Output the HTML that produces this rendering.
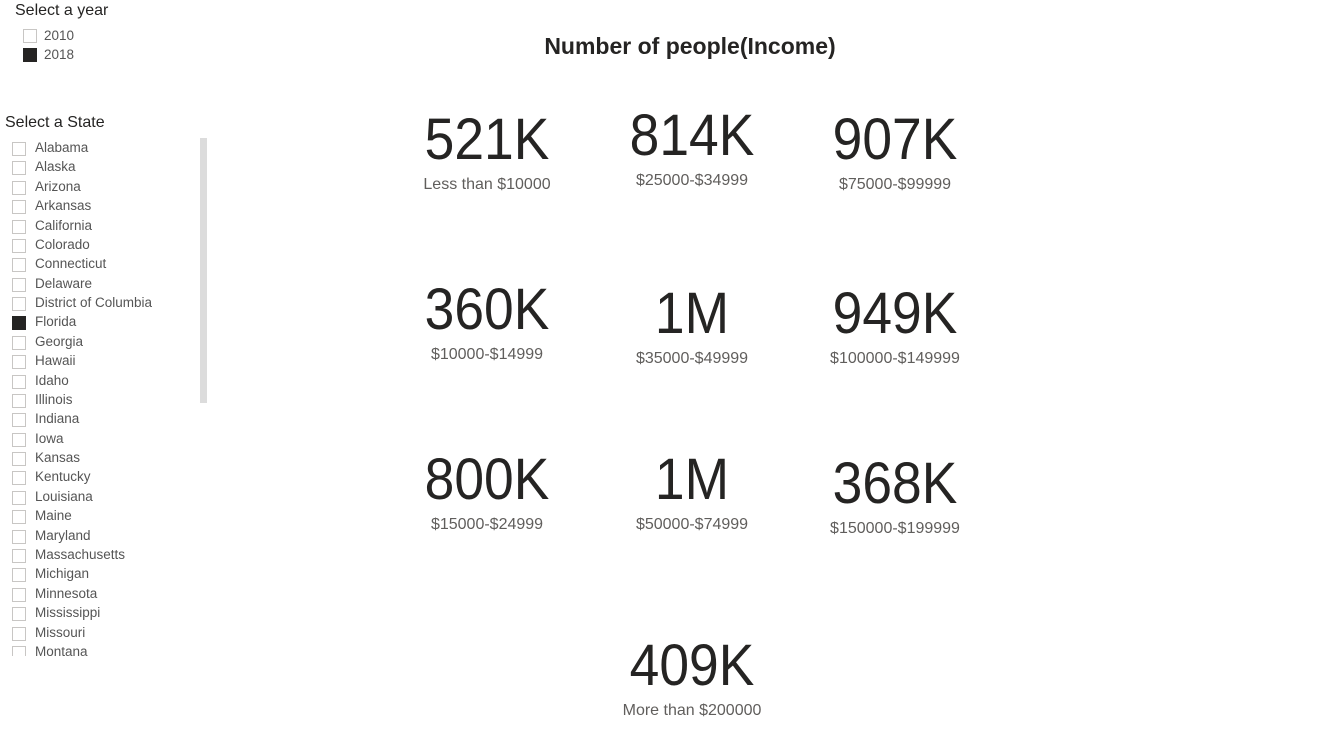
<!DOCTYPE html>
<html><head><meta charset="utf-8">
<style>
body{margin:0;width:1317px;height:739px;background:#fff;font-family:"Liberation Sans",sans-serif;position:relative;overflow:hidden;color:#252423}
.abs{position:absolute}
.cb{position:absolute;width:12px;height:12px;border:1px solid #c8c6c4;background:#fff}
.cb.on{background:#252423;border-color:#252423}
.st{position:absolute;font-size:13.5px;color:#555;white-space:nowrap}
.num{position:absolute;font-size:58px;color:#252423;transform:translateX(-50%) scaleX(0.92);white-space:nowrap;line-height:1}
.lbl{position:absolute;font-size:16px;color:#605e5c;transform:translateX(-50%);white-space:nowrap;line-height:1}
</style></head><body>
<div class="abs" style="left:15px;top:2px;font-size:16px">Select a year</div>
<div class="cb" style="left:23px;top:29px"></div>
<div class="st" style="left:44px;top:28px">2010</div>
<div class="cb on" style="left:23px;top:48px"></div>
<div class="st" style="left:44px;top:47px">2018</div>

<div class="abs" style="left:5px;top:114px;font-size:16px">Select a State</div>
<div class="abs" id="states" style="left:0;top:138px;width:200px;height:518px;overflow:hidden"></div>
<div class="abs" style="left:200px;top:138px;width:7px;height:265px;background:#dcdcdc"></div>

<div class="abs" style="left:690px;top:33px;transform:translateX(-50%);font-size:23px;font-weight:bold;white-space:nowrap">Number of people(Income)</div>
<div id="cards"></div>
<script>
const cardValues=["521K","814K","907K","360K","1M","949K","800K","1M","368K","409K"];
const cardLabels=["Less than $10000","$25000-$34999","$75000-$99999","$10000-$14999","$35000-$49999","$100000-$149999","$15000-$24999","$50000-$74999","$150000-$199999","More than $200000"];
const cardCols=[0,1,2,0,1,2,0,1,2,1];
const cardRows=[0,0,0,1,1,1,2,2,2,3];
const states=["Alabama","Alaska","Arizona","Arkansas","California","Colorado","Connecticut","Delaware","District of Columbia","Florida","Georgia","Hawaii","Idaho","Illinois","Indiana","Iowa","Kansas","Kentucky","Louisiana","Maine","Maryland","Massachusetts","Michigan","Minnesota","Mississippi","Missouri","Montana"];
const selectedState="Florida";
const colX=c=>[487,692,895][c];
const rowY=r=>[117,287,457,643][r];
const rowOffset=[[0,-4,0],[0,4,4],[0,0,4],[0,0,0]];
const cards=document.getElementById('cards');
cardValues.forEach((v,i)=>{
  const x=colX(cardCols[i]),y=rowY(cardRows[i])+(rowOffset[cardRows[i]][cardCols[i]]||0);
  const n=document.createElement('div');n.className='num';n.textContent=v;
  
  
  n.style.left=x+'px';n.style.top=(y-6)+'px';cards.appendChild(n);
  const l=document.createElement('div');l.className='lbl';l.textContent=cardLabels[i];
  
  
  l.style.left=x+'px';l.style.top=(y+60)+'px';cards.appendChild(l);
});
const sl=document.getElementById('states');
states.forEach((s,i)=>{
  const y=4+i*19.38;
  const c=document.createElement('div');c.className='cb'+(s===selectedState?' on':'');
  
  
  c.style.left='12px';c.style.top=y+'px';sl.appendChild(c);
  const t=document.createElement('div');t.className='st';t.textContent=s;
  
  
  t.style.left='35px';t.style.top=(y-2)+'px';sl.appendChild(t);
});
</script>
</body></html>
